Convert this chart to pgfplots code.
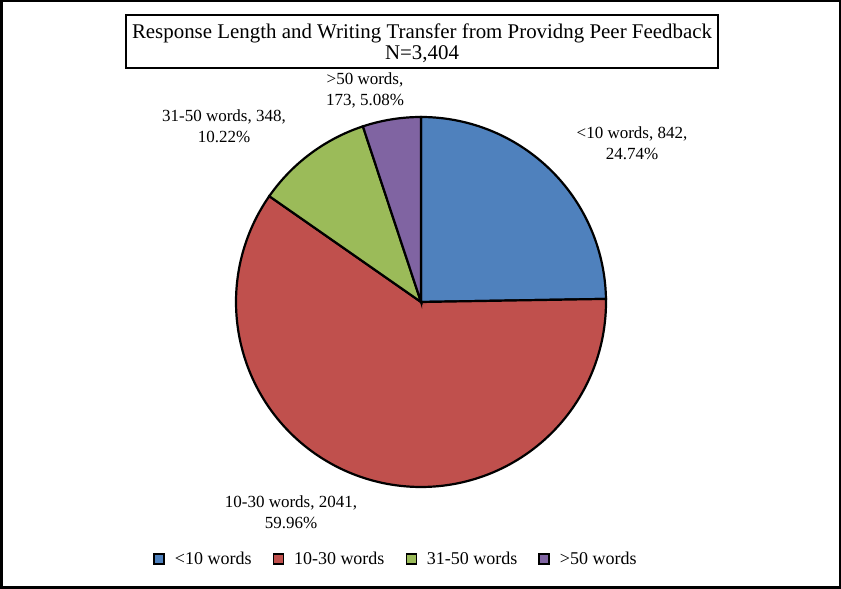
\documentclass[border=0pt]{standalone}
\usepackage{pgfplots}
\pgfplotsset{compat=1.18}
\usepackage{fontspec}
\setmainfont{Liberation Serif}
\definecolor{cBlue}{HTML}{4F81BD}
\definecolor{cRed}{HTML}{C0504D}
\definecolor{cGreen}{HTML}{9BBB59}
\definecolor{cPurple}{HTML}{8064A2}
% counts
\def\nA{842}\def\nB{2041}\def\nC{348}\def\nD{173}
\pgfmathsetmacro{\tot}{\nA+\nB+\nC+\nD}
\pgfmathsetmacro{\aA}{90-360*(\nA/\tot)}
\pgfmathsetmacro{\aB}{\aA-360*(\nB/\tot)}
\pgfmathsetmacro{\aC}{\aB-360*(\nC/\tot)}
\pgfmathsetmacro{\aD}{\aC-360*(\nD/\tot)}
\begin{document}
\begin{tikzpicture}
\begin{axis}[
  scale only axis, width=841pt, height=589pt,
  xmin=0, xmax=841, ymin=0, ymax=589,
  hide axis, clip=false,
  legend columns=4,
  legend style={at={(axis cs:396,30)}, anchor=center, draw=none, fill=none,
    font=\fontsize{18}{20}\selectfont,
    /tikz/every odd column/.append style={column sep=8pt},
    /tikz/every even column/.append style={column sep=19pt}},
  legend image code/.code={\draw[#1, line width=1.5pt] (0pt,-5pt) rectangle (10pt,5pt);},
]
\addplot[fill=cBlue, draw=black, line width=2.2pt, domain=\aA:90, samples=80]
  ({421+185*cos(x)},{287+185*sin(x)}) -- (axis cs:421,287) -- cycle;
\addlegendentry{<10 words}
\addplot[fill=cRed, draw=black, line width=2.2pt, domain=\aB:\aA, samples=150]
  ({421+185*cos(x)},{287+185*sin(x)}) -- (axis cs:421,287) -- cycle;
\addlegendentry{10-30 words}
\addplot[fill=cGreen, draw=black, line width=2.2pt, domain=\aC:\aB, samples=40]
  ({421+185*cos(x)},{287+185*sin(x)}) -- (axis cs:421,287) -- cycle;
\addlegendentry{31-50 words}
\addplot[fill=cPurple, draw=black, line width=2.2pt, domain=\aD:\aC, samples=25]
  ({421+185*cos(x)},{287+185*sin(x)}) -- (axis cs:421,287) -- cycle;
\addlegendentry{>50 words}
% outer frame and title
\draw[line width=2.5pt] (axis cs:1.25,1.25) rectangle (axis cs:839.75,587.75);
\draw[line width=2.2pt] (axis cs:126,521) rectangle (axis cs:718,574);
\node[align=center, font=\fontsize{20.9}{21.5}\selectfont, inner sep=0pt]
  at (axis cs:422,545.5)
  {Response Length and Writing Transfer from Providng Peer Feedback\\N=3,404};
% data labels
\begin{scope}[every node/.style={align=center, font=\fontsize{17}{21}\selectfont}]
\node at (axis cs:632,445.5) {<10 words, 842,\\24.74\%};
\node at (axis cs:291,77) {10-30 words, 2041,\\59.96\%};
\node at (axis cs:224,462.5) {31-50 words, 348,\\10.22\%};
\node at (axis cs:365,498.5) {>50 words,\\173, 5.08\%};
\end{scope}
\end{axis}
\pgfresetboundingbox
\useasboundingbox (0,0) rectangle (841pt,589pt);
\end{tikzpicture}
\end{document}
